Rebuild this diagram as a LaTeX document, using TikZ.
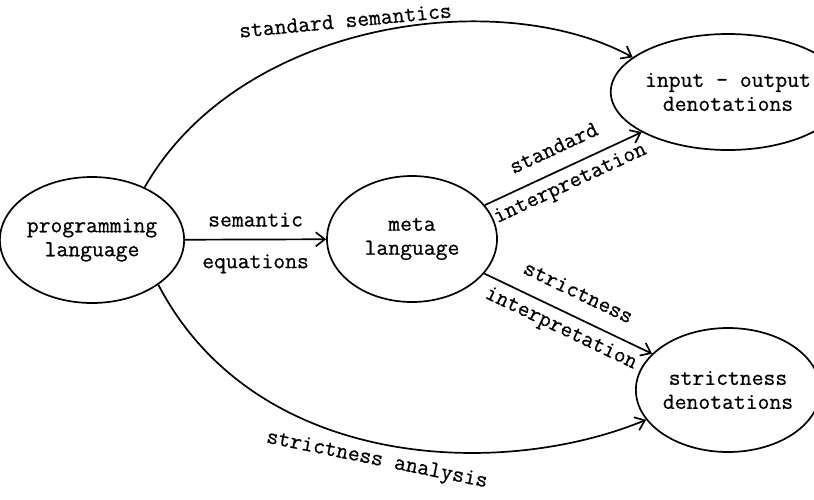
\documentclass[tikz,border=0pt]{standalone}
\usepackage{fontspec}
\newfontfamily\diagfont[FakeBold=0.6]{Latin Modern Mono}
\usetikzlibrary{shapes.geometric,arrows.meta}
\begin{document}
\begin{tikzpicture}[x=1pt,y=-1pt,
  every node/.style={font=\fontsize{23}{24}\selectfont\diagfont},
  oval/.style={ellipse,draw,line width=1.7pt,inner sep=0pt,align=center},
  arr/.style={line width=1.7pt,-{Straight Barb[length=9pt,width=14pt,line width=1.7pt]}},
  lbl/.style={inner sep=0pt}]
\useasboundingbox (0,0) rectangle (814,499);
\node[oval,minimum width=176pt,minimum height=126pt] (pl) at (92,240) {programming\\language};
\node[oval,minimum width=170pt,minimum height=126pt] (ml) at (412,239) {meta\\language};
\node[oval,minimum width=172pt,minimum height=116pt] (io) at (728,92) {input - output\\denotations};
\node[oval,minimum width=172pt,minimum height=124pt] (sd) at (728,390) {strictness\\denotations};

\draw[arr] (pl) -- node[lbl,above=12pt] {semantic} node[lbl,below=14pt] {equations} (ml);
\draw[arr] (ml) -- node[lbl,sloped,above=15pt] {standard} node[lbl,sloped,below=7pt] {interpretation} (io);
\draw[arr] (ml) -- node[lbl,sloped,above=16pt] {strictness} node[lbl,sloped,below=7pt] {interpretation} (sd);
\draw[arr] (pl.45) .. controls (240,20) and (500,-15) .. (io.160);
\draw[arr] (pl.-34) .. controls (255,470) and (500,480) .. (sd.200);
\node[lbl,anchor=base,rotate=5.5] (lss) at (346,27.5) {standard semantics};
\node[lbl,anchor=base,rotate=-11.5] (lsa) at (376,465) {strictness analysis};
\end{tikzpicture}
\end{document}
